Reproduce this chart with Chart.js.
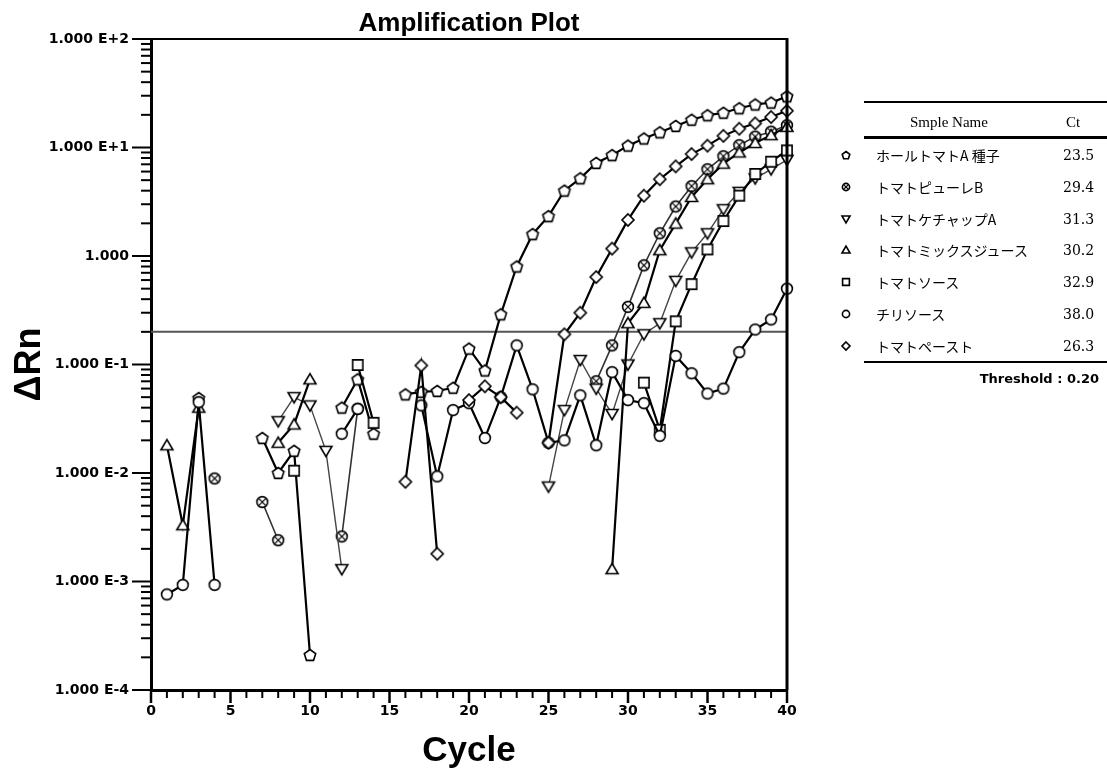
<!DOCTYPE html>
<html>
<head>
<meta charset="utf-8">
<script src="https://cdn.jsdelivr.net/npm/chart.js@4.4.1/dist/chart.umd.min.js"></script>
<style>
  body { margin: 0; background: #fff; }
  #wrap { position: relative; width: 1107px; height: 774px; }
  #legend { position: absolute; left: 0; top: 0; width: 1107px; height: 774px; pointer-events: none; color: #000; }
  .hl { position: absolute; left: 864px; width: 243px; background: #000; }
  .txt { position: absolute; white-space: nowrap; line-height: 1; transform: translateY(-50%); }
  .name { font-family: "Noto Sans CJK JP", sans-serif; font-size: 14px; left: 876px; }
  .ct { font-family: "DejaVu Serif", serif; font-size: 14px; left: 1063px; }
  .sym { position: absolute; }
</style>
</head>
<body>
<div id="wrap">
  <canvas id="amp_plot"></canvas>
  <div id="legend"></div>
</div>
<script>
// cycle numbers and the delta Rn readings of each sample (null = no point plotted)
const cycles = [1, 2, 3, 4, 5, 6, 7, 8, 9, 10, 11, 12, 13, 14, 15, 16, 17, 18, 19, 20,
                21, 22, 23, 24, 25, 26, 27, 28, 29, 30, 31, 32, 33, 34, 35, 36, 37, 38, 39, 40];

const wholeTomatoA = [null, null, 0.049, null, null, null, 0.021, 0.010, 0.016, 0.00021,
                      null, 0.040, 0.073, 0.023, null, 0.053, 0.056, 0.057, 0.061, 0.14,
                      0.088, 0.29, 0.80, 1.59, 2.33, 4.0, 5.2, 7.2, 8.5, 10.4,
                      12.1, 13.8, 15.8, 18.0, 19.8, 20.9, 23.0, 24.9, 25.9, 29.6];
const pureeB = [null, null, null, 0.0089, null, null, 0.0054, 0.0024, null, null,
                null, 0.0026, 0.039, null, null, null, null, null, null, null,
                null, null, null, null, null, null, null, 0.07, 0.15, 0.34,
                0.82, 1.62, 2.86, 4.4, 6.3, 8.3, 10.5, 12.6, 14.0, 16.0];
const ketchupA = [null, null, null, null, null, null, null, 0.030, 0.050, 0.042,
                  0.016, 0.0013, null, null, null, null, null, null, null, null,
                  null, null, null, null, 0.0075, 0.038, 0.11, 0.06, 0.035, 0.10,
                  0.19, 0.24, 0.59, 1.08, 1.62, 2.7, 3.9, 5.2, 6.3, 7.7];
const mixJuice = [0.018, 0.0033, 0.040, null, null, null, null, 0.019, 0.028, 0.073,
                  null, null, null, null, null, null, null, null, null, null,
                  null, null, null, null, null, null, null, null, 0.0013, 0.24,
                  0.37, 1.13, 1.99, 3.5, 5.1, 7.1, 9.0, 11.0, 13.0, 15.5];
const tomatoSauce = [null, null, null, null, null, null, null, null, 0.0105, null,
                     null, null, 0.099, 0.029, null, null, null, null, null, null,
                     null, null, null, null, null, null, null, null, null, null,
                     0.068, 0.025, 0.25, 0.55, 1.15, 2.1, 3.6, 5.7, 7.4, 9.4];
const chiliSauce = [0.00076, 0.00093, 0.045, 0.00093, null, null, null, null, null, null,
                    null, 0.023, 0.039, null, null, null, 0.042, 0.0093, 0.038, 0.044,
                    0.021, 0.050, 0.15, 0.059, 0.019, 0.020, 0.052, 0.018, 0.085, 0.047,
                    0.044, 0.022, 0.12, 0.083, 0.054, 0.060, 0.13, 0.21, 0.26, 0.50];
const tomatoPaste = [null, null, null, null, null, null, null, null, null, null,
                     null, null, null, null, null, 0.0083, 0.098, 0.0018, null, 0.047,
                     0.063, 0.050, 0.036, null, 0.019, 0.19, 0.30, 0.64, 1.17, 2.15,
                     3.6, 5.1, 6.7, 8.7, 10.4, 12.8, 14.9, 16.7, 19.1, 21.8];

const sampleNames = ['ホールトマトA 種子', 'トマトピューレB', 'トマトケチャップA',
                     'トマトミックスジュース', 'トマトソース', 'チリソース', 'トマトペースト'];
const ctValues = ['23.5', '29.4', '31.3', '30.2', '32.9', '38.0', '26.3'];
const markerShapes = ['pentagon', 'circleX', 'triDown', 'triUp', 'square', 'circle', 'diamond'];
const threshold = 0.20;

const yTickValues = [1e-4, 1e-3, 1e-2, 1e-1, 1, 10, 100];
const yTickLabels = ['1.000 E-4', '1.000 E-3', '1.000 E-2', '1.000 E-1', '1.000', '1.000 E+1', '1.000 E+2'];
const xTickValues = [0, 5, 10, 15, 20, 25, 30, 35, 40];

// hollow marker drawn on a small canvas, used for the points and the legend
function makeMarker(shape, size) {
  const c = document.createElement('canvas');
  c.width = size + 4; c.height = size + 4;
  const g = c.getContext('2d');
  const m = c.width / 2, r = size / 2;
  g.beginPath();
  if (shape === 'pentagon') {
    for (let i = 0; i < 5; i++) {
      const a = -Math.PI / 2 + i * 2 * Math.PI / 5;
      g.lineTo(m + r * Math.cos(a), m + 0.5 + r * Math.sin(a));
    }
    g.closePath();
  } else if (shape === 'circle' || shape === 'circleX') {
    g.arc(m, m, r * 0.9, 0, Math.PI * 2);
  } else if (shape === 'triDown') {
    g.moveTo(m - r, m - r * 0.75); g.lineTo(m + r, m - r * 0.75); g.lineTo(m, m + r * 0.95); g.closePath();
  } else if (shape === 'triUp') {
    g.moveTo(m - r, m + r * 0.75); g.lineTo(m + r, m + r * 0.75); g.lineTo(m, m - r * 0.95); g.closePath();
  } else if (shape === 'square') {
    g.rect(m - r * 0.85, m - r * 0.85, r * 1.7, r * 1.7);
  } else if (shape === 'diamond') {
    g.moveTo(m, m - r); g.lineTo(m + r, m); g.lineTo(m, m + r); g.lineTo(m - r, m); g.closePath();
  }
  g.fillStyle = '#fff';
  g.fill();
  g.lineWidth = 1.6;
  g.strokeStyle = '#000';
  g.stroke();
  if (shape === 'circleX') {
    const d = r * 0.6;
    g.beginPath();
    g.moveTo(m - d, m - d); g.lineTo(m + d, m + d);
    g.moveTo(m + d, m - d); g.lineTo(m - d, m + d);
    g.lineWidth = 1.3;
    g.stroke();
  }
  return c;
}

const seriesData = [wholeTomatoA, pureeB, ketchupA, mixJuice, tomatoSauce, chiliSauce, tomatoPaste];
const lineColors = ['#000', '#333', '#444', '#000', '#000', '#000', '#000'];
const lineWidths = [2.2, 1.6, 1.4, 2.2, 2.2, 2.2, 2.2];

const datasets = seriesData.map((arr, k) => ({
  label: sampleNames[k],
  data: cycles.map((c, i) => ({ x: c, y: arr[i] })),
  borderColor: lineColors[k],
  borderWidth: lineWidths[k],
  pointStyle: makeMarker(markerShapes[k], 12),
  pointRadius: 6,
  spanGaps: false,
  clip: false,
  order: 7 - k
}));

datasets.push({
  label: 'Threshold',
  data: [{ x: 0, y: threshold }, { x: 40, y: threshold }],
  borderColor: '#555',
  borderWidth: 2,
  pointRadius: 0,
  order: 10
});

// top/right frame, tick marks, and the title
const framePlugin = {
  id: 'frame',
  afterDraw(chart) {
    const ctx = chart.ctx, a = chart.chartArea;
    const xs = chart.scales.x, ys = chart.scales.y;
    ctx.save();
    ctx.strokeStyle = '#000';
    ctx.lineWidth = 2;
    ctx.beginPath(); ctx.moveTo(a.left, a.top); ctx.lineTo(a.right, a.top); ctx.stroke();
    ctx.lineWidth = 3;
    ctx.beginPath(); ctx.moveTo(a.right, a.top - 1); ctx.lineTo(a.right, a.bottom); ctx.stroke();

    ctx.lineWidth = 2;
    for (let d = -4; d <= 2; d++) {
      for (let m = 1; m <= 9; m++) {
        if (d === 2 && m > 1) break;
        const y = ys.getPixelForValue(m * Math.pow(10, d));
        const len = m === 1 ? 19 : 10;
        ctx.beginPath(); ctx.moveTo(a.left - len, y); ctx.lineTo(a.left, y); ctx.stroke();
      }
    }
    for (let i = 0; i <= 40; i++) {
      const x = xs.getPixelForValue(i);
      const len = i % 5 === 0 ? 13 : 8;
      ctx.lineWidth = i % 5 === 0 ? 2.5 : 2;
      ctx.beginPath(); ctx.moveTo(x, a.bottom); ctx.lineTo(x, a.bottom + len); ctx.stroke();
    }

    ctx.fillStyle = '#000';
    ctx.font = 'bold 26px "Liberation Sans", Arial, sans-serif';
    ctx.textAlign = 'center';
    ctx.textBaseline = 'alphabetic';
    ctx.fillText('Amplification Plot', (a.left + a.right) / 2, 31);
    ctx.restore();
  }
};

const tickFont = { family: '"DejaVu Sans", sans-serif', size: 14, weight: 'bold' };

new Chart(document.getElementById('amp_plot'), {
  type: 'line',
  data: { datasets: datasets },
  options: {
    responsive: true,
    maintainAspectRatio: false,
    animation: false,
    events: [],
    layout: { padding: { top: 39, right: 320, left: 0, bottom: 0 } },
    plugins: { legend: { display: false }, tooltip: { enabled: false } },
    scales: {
      x: {
        type: 'linear',
        min: 0,
        max: 40,
        afterBuildTicks: (s) => { s.ticks = xTickValues.map(v => ({ value: v })); },
        afterFit: (s) => { s.height = 84; },
        ticks: { color: '#000', font: tickFont, padding: 13, maxRotation: 0 },
        grid: { display: false, drawTicks: false },
        border: { display: true, color: '#000', width: 3 },
        title: {
          display: true,
          text: 'Cycle',
          color: '#000',
          font: { family: '"Liberation Sans", Arial, sans-serif', size: 35, weight: 'bold' },
          padding: { top: 0, bottom: 2 }
        }
      },
      y: {
        type: 'logarithmic',
        min: 1e-4,
        max: 100,
        afterBuildTicks: (s) => { s.ticks = yTickValues.map(v => ({ value: v })); },
        afterFit: (s) => { s.width = 151; },
        ticks: {
          color: '#000',
          font: tickFont,
          padding: 22,
          callback: (v, i) => yTickLabels[i]
        },
        grid: { display: false, drawTicks: false },
        border: { display: true, color: '#000', width: 3 },
        title: {
          display: true,
          text: 'ΔRn',
          color: '#000',
          font: { family: '"Liberation Sans", Arial, sans-serif', size: 36, weight: 'bold' },
          padding: { top: 8, bottom: 0 }
        }
      }
    }
  },
  plugins: [framePlugin]
});

// legend table at the right
const lg = document.getElementById('legend');
function addLine(top, h) {
  const d = document.createElement('div');
  d.className = 'hl';
  d.style.top = top + 'px';
  d.style.height = h + 'px';
  lg.appendChild(d);
}
function addText(cls, text, left, top, extra) {
  const d = document.createElement('div');
  d.className = 'txt ' + cls;
  d.textContent = text;
  if (left !== null) d.style.left = left + 'px';
  d.style.top = top + 'px';
  if (extra) Object.assign(d.style, extra);
  lg.appendChild(d);
  return d;
}
addLine(101, 2);
addText('', 'Smple Name', 910, 122, { fontFamily: '"Liberation Serif", serif', fontSize: '15px' });
addText('', 'Ct', 1066, 122, { fontFamily: '"Liberation Serif", serif', fontSize: '15px' });
addLine(136, 3);
const rowTop = 155, rowStep = 31.8;
sampleNames.forEach((n, k) => {
  const y = rowTop + k * rowStep;
  const s = makeMarker(markerShapes[k], 8);
  s.className = 'sym';
  s.style.left = (846 - s.width / 2) + 'px';
  s.style.top = (y - s.height / 2) + 'px';
  lg.appendChild(s);
  addText('name', n, null, y);
  addText('ct', ctValues[k], null, y);
});
addLine(361, 2);
addText('', 'Threshold : ' + threshold.toFixed(2), null, 378,
  { right: '8px', fontFamily: '"DejaVu Sans", sans-serif', fontWeight: 'bold', fontSize: '13px' });
</script>
</body>
</html>
